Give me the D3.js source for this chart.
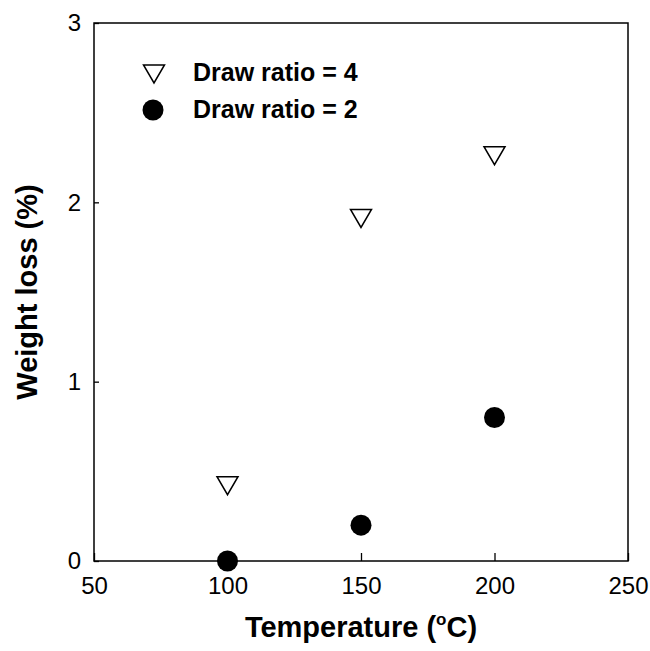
<!DOCTYPE html>
<html>
<head>
<meta charset="utf-8">
<script src="https://cdn.jsdelivr.net/npm/d3@7"></script>
<style>
  body { margin: 0; background: #fff; }
  svg { font-family: "Liberation Sans", Arial, sans-serif; }
</style>
</head>
<body>
<div id="chart"></div>
<script>
const temps = [100, 150, 200];
const ratio4 = [0.42, 1.91, 2.26];
const ratio2 = [0, 0.2, 0.8];
const xTicks = [50, 100, 150, 200, 250];
const yTicks = [0, 1, 2, 3];
const legendLabels = ["Draw ratio = 4", "Draw ratio = 2"];

const width = 650;
const height = 651;
const marginLeft = 94;
const marginRight = 22;
const marginTop = 23;
const marginBottom = 90;

const x = d3.scaleLinear().domain([50, 250]).range([marginLeft, width - marginRight]);
const y = d3.scaleLinear().domain([0, 3]).range([height - marginBottom, marginTop]);

const svg = d3.select("#chart").append("svg")
  .attr("width", width)
  .attr("height", height)
  .attr("viewBox", [0, 0, width, height]);

// frame
svg.append("rect")
  .attr("x", x(50))
  .attr("y", y(3))
  .attr("width", x(250) - x(50))
  .attr("height", y(0) - y(3))
  .attr("fill", "none")
  .attr("stroke", "#000")
  .attr("stroke-width", 1.5);

const xAxisG = svg.append("g")
  .attr("transform", `translate(0,${y(0)})`)
  .call(d3.axisBottom(x).tickValues(xTicks).tickSize(-8).tickPadding(16).tickFormat(d3.format("d")))
  .attr("font-family", null)
  .attr("font-size", 24);
xAxisG.select(".domain").remove();
xAxisG.selectAll("line").attr("stroke-width", 1.3);

const yAxisG = svg.append("g")
  .attr("transform", `translate(${x(50)},0)`)
  .call(d3.axisLeft(y).tickValues(yTicks).tickSize(-5).tickPadding(13).tickFormat(d3.format("d")))
  .attr("font-family", null)
  .attr("font-size", 24);
yAxisG.select(".domain").remove();
yAxisG.selectAll("line").attr("stroke-width", 1.3);

// axis titles
const xTitle = svg.append("text")
  .attr("x", (x(50) + x(250)) / 2)
  .attr("y", 637)
  .attr("text-anchor", "middle")
  .attr("font-size", 29)
  .attr("font-weight", "bold");
xTitle.append("tspan").text("Temperature (");
xTitle.append("tspan").attr("font-size", 17).attr("dy", -12).text("o");
xTitle.append("tspan").attr("dy", 12).text("C)");

svg.append("text")
  .attr("transform", `translate(37,${(y(0) + y(3)) / 2}) rotate(-90)`)
  .attr("text-anchor", "middle")
  .attr("font-size", 29)
  .attr("font-weight", "bold")
  .text("Weight loss (%)");

// down triangle centred on its bounding box
const triW = 21, triH = 18;
const triPath = `M${-triW / 2},${-triH / 2}L${triW / 2},${-triH / 2}L0,${triH / 2}Z`;

svg.append("g")
  .selectAll("path")
  .data(temps)
  .join("path")
  .attr("transform", (d, i) => `translate(${x(d)},${y(ratio4[i])})`)
  .attr("d", triPath)
  .attr("fill", "#fff")
  .attr("stroke", "#000")
  .attr("stroke-width", 1.5);

svg.append("g")
  .selectAll("circle")
  .data(temps)
  .join("circle")
  .attr("cx", d => x(d))
  .attr("cy", (d, i) => y(ratio2[i]))
  .attr("r", 10.5)
  .attr("fill", "#000");

// legend
const legend = svg.append("g");
legend.append("path")
  .attr("transform", "translate(154,74)")
  .attr("d", triPath)
  .attr("fill", "#fff")
  .attr("stroke", "#000")
  .attr("stroke-width", 1.5);
legend.append("circle")
  .attr("cx", 153)
  .attr("cy", 110)
  .attr("r", 10.5)
  .attr("fill", "#000");
legend.selectAll("text")
  .data(legendLabels)
  .join("text")
  .attr("x", 193)
  .attr("y", (d, i) => 81 + i * 37)
  .attr("font-size", 25)
  .attr("font-weight", "bold")
  .text(d => d);
</script>
</body>
</html>
